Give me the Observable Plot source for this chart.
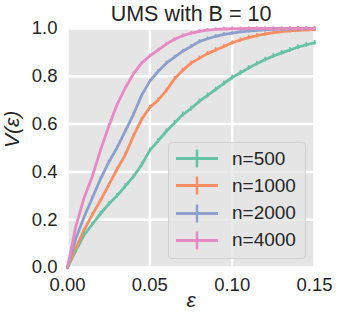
<!DOCTYPE html>
<html>
<head>
<meta charset="utf-8">
<script src="https://cdn.jsdelivr.net/npm/d3@7"></script>
<script src="https://cdn.jsdelivr.net/npm/@observablehq/plot@0.6"></script>
<style>
  html, body { margin: 0; padding: 0; background: #fff; }
  #wrap { position: relative; width: 341px; height: 325px; font-family: "Liberation Sans", Arial, sans-serif; }
  #legend { position: absolute; left: 168px; top: 142px; width: 136px; height: 115px;
    background: rgba(229,229,229,0.8); border: 1px solid #d0d0d0; border-radius: 4px; box-sizing: content-box; }
  .row { position: absolute; left: 0; height: 27px; display: flex; align-items: center; }
  .row span { font-size: 19px; color: #262626; margin-left: 14px; }
</style>
</head>
<body>
<div id="wrap"><div id="legend"></div></div>
<script>
const title = "UMS with B = 10";
const seriesNames = ["n=500", "n=1000", "n=2000", "n=4000"];
const colors = ["#66c2a5", "#fc8d62", "#8da0cb", "#e78ac3"];
const eps = [0,0.005,0.01,0.015,0.02,0.025,0.03,0.035,0.04,0.045,0.05,0.055,0.06,0.065,0.07,0.075,0.08,0.085,0.09,0.095,0.1,0.105,0.11,0.115,0.12,0.125,0.13,0.135,0.14,0.145,0.15];
const v500  = [0,0.07,0.135,0.18,0.225,0.265,0.30,0.34,0.38,0.43,0.49,0.53,0.57,0.605,0.64,0.665,0.695,0.72,0.745,0.77,0.795,0.815,0.835,0.853,0.87,0.885,0.898,0.91,0.922,0.932,0.94];
const v1000 = [0,0.08,0.155,0.22,0.28,0.345,0.41,0.47,0.55,0.62,0.67,0.70,0.74,0.79,0.825,0.855,0.875,0.895,0.91,0.925,0.94,0.952,0.962,0.97,0.977,0.983,0.987,0.99,0.992,0.994,0.995];
const v2000 = [0,0.12,0.21,0.29,0.37,0.44,0.50,0.57,0.64,0.72,0.78,0.82,0.855,0.88,0.905,0.925,0.945,0.957,0.967,0.975,0.981,0.986,0.989,0.992,0.994,0.996,0.997,0.998,0.999,0.999,1.0];
const v4000 = [0,0.17,0.29,0.38,0.49,0.59,0.68,0.75,0.81,0.855,0.885,0.91,0.935,0.955,0.97,0.98,0.988,0.993,0.996,0.998,0.999,0.999,1,1,1,1,1,1,1,1,1];
const errHalf = [0.010, 0.009, 0.008, 0.007];
const xTicks = [0, 0.05, 0.10, 0.15];
const yTicks = [0, 0.2, 0.4, 0.6, 0.8, 1.0];

const allV = [v500, v1000, v2000, v4000];
const data = [];
seriesNames.forEach((s, i) => {
  eps.forEach((e, j) => data.push({series: s, eps: e, v: allV[i][j], err: errHalf[i]}));
});

const font = "'Liberation Sans', Arial, sans-serif";
const chart = Plot.plot({
  width: 341, height: 325,
  marginLeft: 67, marginRight: 27, marginTop: 28, marginBottom: 58,
  style: {fontFamily: font, color: "#262626", background: "transparent"},
  x: {domain: [0, 0.15]},
  y: {domain: [0, 1]},
  color: {domain: seriesNames, range: colors},
  marks: [
    Plot.frame({fill: "#e5e5e5", stroke: null}),
    Plot.gridX(xTicks, {stroke: "#fff", strokeOpacity: 1, strokeWidth: 2.5}),
    Plot.gridY(yTicks, {stroke: "#fff", strokeOpacity: 1, strokeWidth: 2.5}),
    Plot.axisX(xTicks, {tickFormat: ".2f", tickSize: 0, tickPadding: 10, fontSize: 18.5, fill: "#262626", label: null}),
    Plot.axisY(yTicks, {tickFormat: ".1f", tickSize: 0, tickPadding: 10, fontSize: 18.5, fill: "#262626", label: null}),
    Plot.line(data, {x: "eps", y: "v", z: "series", stroke: "series", strokeWidth: 2.8}),
    Plot.ruleX(data, {x: "eps", y1: d => d.v - d.err, y2: d => d.v + d.err, stroke: "series", strokeWidth: 1.6}),
    Plot.text([title], {frameAnchor: "top", lineAnchor: "middle", dy: -14, fontSize: 21.5, fill: "#262626"}),
    Plot.text(["V(ε)"], {frameAnchor: "left", lineAnchor: "middle", dx: -55, rotate: -90, fontSize: 21, fontStyle: "italic", fill: "#262626"}),
    Plot.text(["ε"], {frameAnchor: "bottom", lineAnchor: "middle", dy: 33, fontSize: 21, fontStyle: "italic", fill: "#262626"})
  ]
});
document.getElementById("wrap").prepend(chart);

const legend = document.getElementById("legend");
seriesNames.forEach((s, i) => {
  const row = document.createElement("div");
  row.className = "row";
  row.style.top = (2 + i * 27.3) + "px";
  row.innerHTML = `<svg width="42" height="27" style="margin-left:7px"><line x1="0" x2="42" y1="13.5" y2="13.5" stroke="${colors[i]}" stroke-width="3"/><line x1="21" x2="21" y1="4.5" y2="22.5" stroke="${colors[i]}" stroke-width="2.5"/></svg><span>${s}</span>`;
  legend.appendChild(row);
});
</script>
</body>
</html>
